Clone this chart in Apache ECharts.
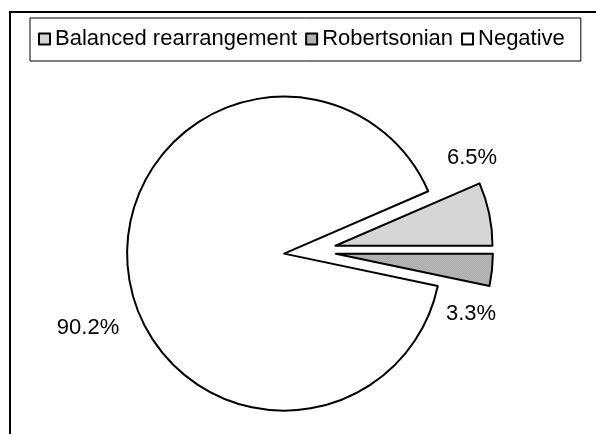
<!DOCTYPE html>
<html>
<head>
<meta charset="utf-8">
<script src="https://cdn.jsdelivr.net/npm/echarts@6/dist/echarts.min.js"></script>
<style>
  html, body { margin: 0; padding: 0; background: #ffffff; }
  #chart { width: 596px; height: 434px; }
</style>
</head>
<body>
<div id="chart"></div>
<script>
// Karyotype outcome shares (percent)
const categories = ['Balanced rearrangement', 'Robertsonian', 'Negative'];
const percentages = [6.5, 3.3, 90.2];

// Small dotted fills, like printed hatching
function checker(base, dot) {
  const c = document.createElement('canvas');
  c.width = 2; c.height = 2;
  const g = c.getContext('2d');
  g.fillStyle = base; g.fillRect(0, 0, 2, 2);
  g.fillStyle = dot; g.fillRect(0, 0, 1, 1); g.fillRect(1, 1, 1, 1);
  return c;
}
const fills = [
  { image: checker('#e8e8e8', '#c4c4c4'), repeat: 'repeat' },
  { image: checker('#c4c4c4', '#a0a0a0'), repeat: 'repeat' },
  '#ffffff'
];

const FONT = 'Liberation Sans, Arial, sans-serif';
const pieCenter = [310, 251];
// where each percentage label sits, relative to the pie centre
const labelOffsets = [[162, -93], [161, 63], [-222, 77]];

const chart = echarts.init(document.getElementById('chart'), null, { renderer: 'canvas' });

const frame = {
  type: 'rect',
  shape: { x: 10, y: 12, width: 620, height: 440 },
  style: { fill: 'none', stroke: '#000000', lineWidth: 2 },
  silent: true
};

const valueLabels = percentages.map((v, i) => ({
  type: 'text',
  x: pieCenter[0] + labelOffsets[i][0],
  y: pieCenter[1] + labelOffsets[i][1],
  silent: true,
  style: {
    text: v.toFixed(1) + '%',
    fontSize: 22,
    fontFamily: FONT,
    fill: '#000000',
    align: 'center',
    verticalAlign: 'middle'
  }
}));

chart.setOption({
  animation: false,
  backgroundColor: '#ffffff',
  graphic: [frame].concat(valueLabels),
  legend: {
    left: 30,
    top: 18,
    orient: 'horizontal',
    data: categories,
    icon: 'rect',
    itemWidth: 11,
    itemHeight: 11,
    itemGap: 8,
    selectedMode: false,
    borderColor: '#000000',
    borderWidth: 1,
    borderRadius: 0,
    padding: [10, 16, 11, 8],
    itemStyle: { borderColor: '#000000', borderWidth: 2 },
    textStyle: { fontSize: 22, color: '#000000', fontFamily: FONT }
  },
  series: [{
    type: 'pie',
    center: pieCenter,
    radius: 157,
    startAngle: percentages[0] * 3.6,
    clockwise: true,
    selectedMode: 'multiple',
    selectedOffset: 26,
    avoidLabelOverlap: false,
    itemStyle: { borderColor: '#000000', borderWidth: 2 },
    select: { itemStyle: { borderColor: '#000000', borderWidth: 2 } },
    emphasis: { disabled: true },
    label: { show: false },
    labelLine: { show: false },
    data: categories.map((name, i) => ({
      name: name,
      value: percentages[i],
      selected: true,
      itemStyle: { color: fills[i] }
    }))
  }]
});
</script>
</body>
</html>
